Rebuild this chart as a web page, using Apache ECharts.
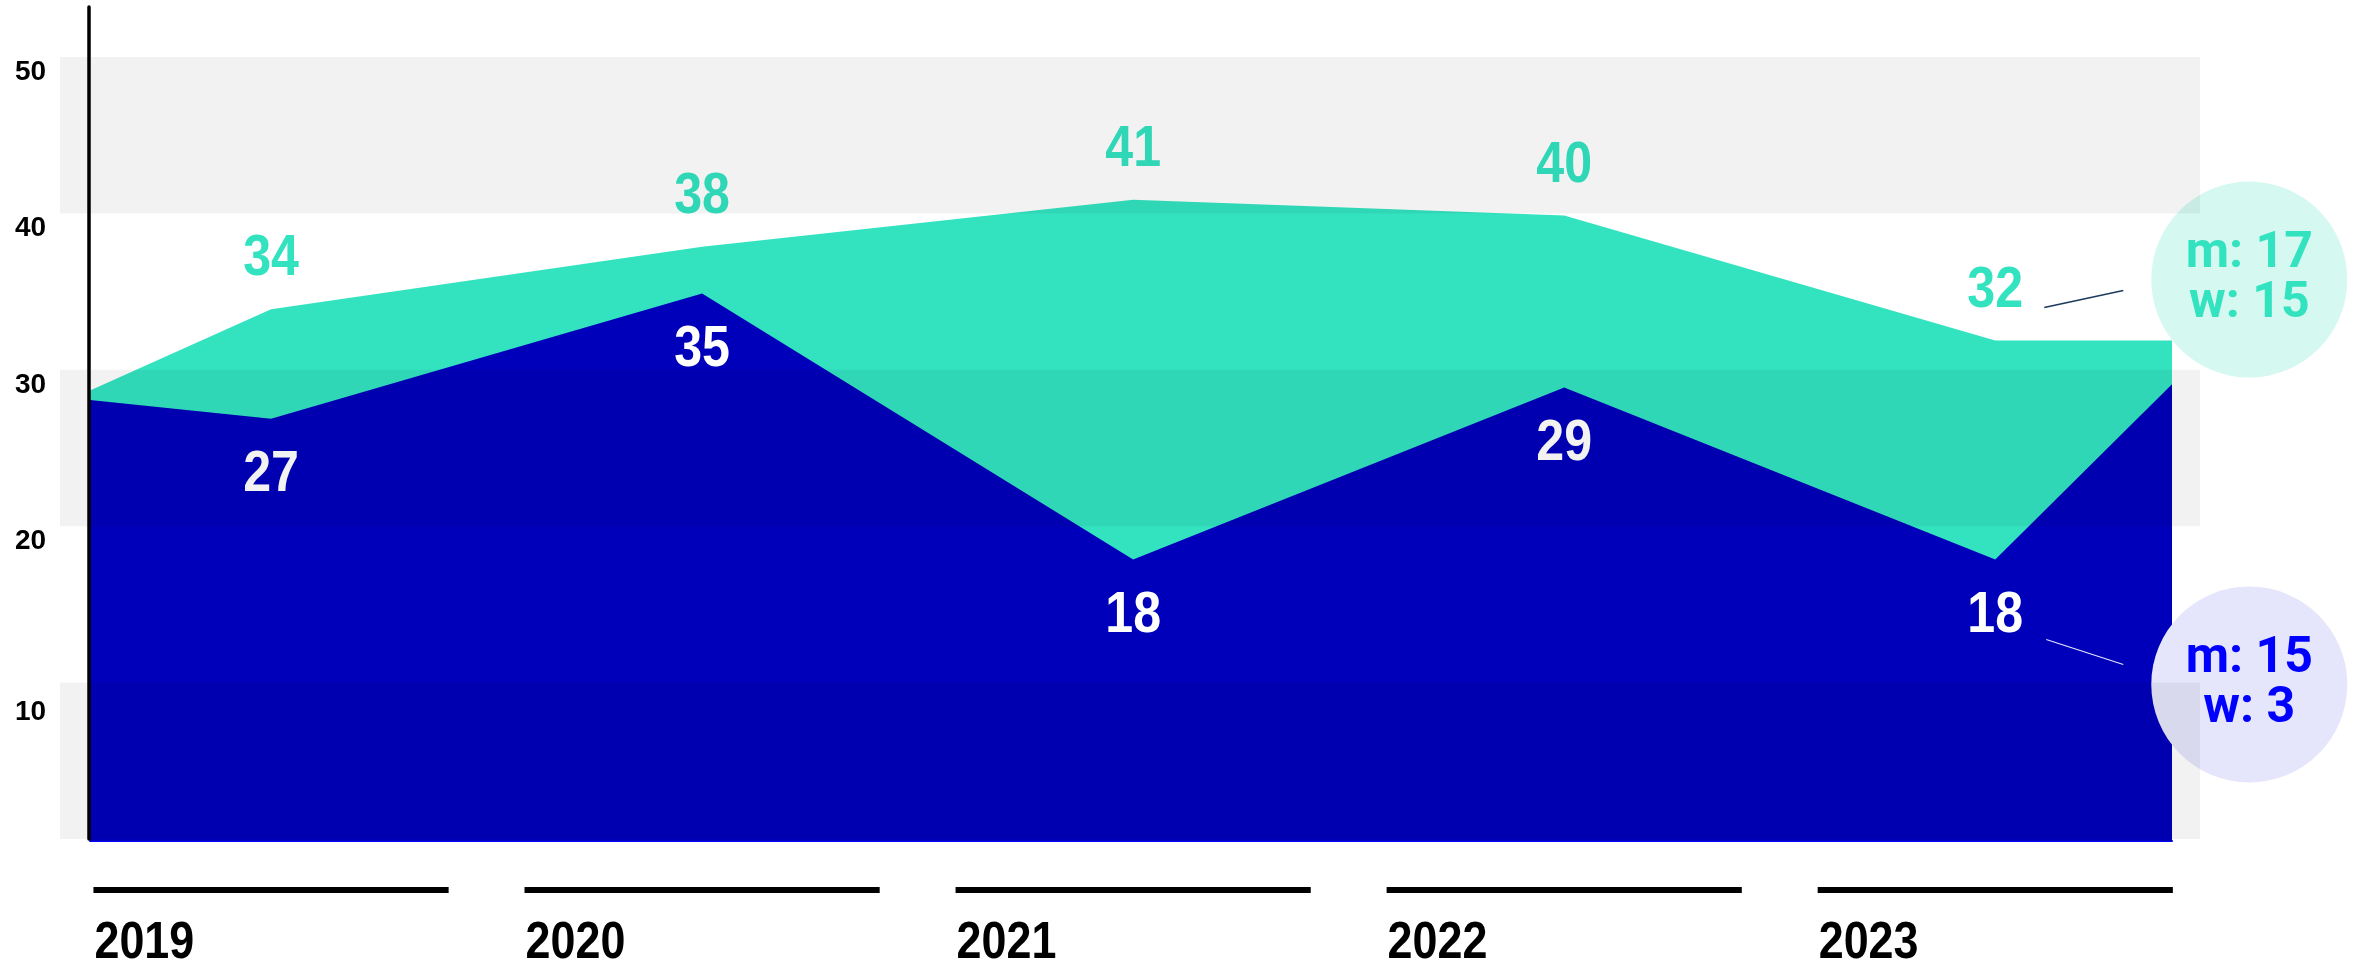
<!DOCTYPE html>
<html>
<head>
<meta charset="utf-8">
<script src="https://cdn.jsdelivr.net/npm/echarts@6/dist/echarts.min.js"></script>
<style>
  html, body { margin: 0; padding: 0; background: #ffffff; }
  #chart { width: 2361px; height: 963px; }
</style>
</head>
<body>
<div id="chart"></div>
<script>
// ---- data ----
const years = ['2019', '2020', '2021', '2022', '2023'];
const tealValues = [34, 38, 41, 40, 32];
const blueValues = [27, 35, 18, 29, 18];
const tealEdgeValues = [28.8, 32];   // value at left edge, right edge
const blueEdgeValues = [28.2, 29.2];
const breakdownKeys = ['m', 'w'];
const tealBreakdown = [17, 15];
const blueBreakdown = [15, 3];
const yTicks = [0, 10, 20, 30, 40, 50];

// ---- layout / style ----
const X_MIN = -0.42, X_MAX = 4.41, SEG_HALF = 0.412;
const SANS = "'Liberation Sans', Arial, sans-serif";
const NARROW = 0.88;             // horizontal squeeze to mimic a condensed face
const TEAL = '#33e3c0', BLUE = '#0000bb';

function buildSeries(values, edges) {
  const d = [[X_MIN, edges[0]]];
  values.forEach((v, i) => d.push([i, v]));
  d.push([X_MAX, edges[1]]);
  return d;
}
function breakdownText(arr) {
  return breakdownKeys.map((k, i) => k + ': ' + arr[i]).join('\n');
}
function labelSeries(values, color, above, dist) {
  return {
    type: 'custom', xAxisIndex: 1, yAxisIndex: 1, z: 4, silent: true, clip: false,
    data: values.map((v, i) => [i, v]),
    renderItem: function (params, api) {
      const v = api.value(1);
      const p = api.coord([api.value(0), v]);
      return {
        type: 'text', x: p[0], y: above ? p[1] - dist : p[1] + dist, scaleX: NARROW,
        style: { text: String(v), x: 0, y: 0, align: 'center',
                 verticalAlign: above ? 'bottom' : 'top',
                 font: 'bold 57px ' + SANS, fill: color }
      };
    }
  };
}

const chart = echarts.init(document.getElementById('chart'), null, { renderer: 'canvas' });
const lastIdx = years.length - 1;

const option = {
  backgroundColor: '#ffffff',
  animation: false,
  grid: [
    { left: 60, right: 161, top: 57, bottom: 124 },       // bands
    { left: 90, right: 189, top: 59, bottom: 122 },       // data
    { left: 89, right: 189, top: 7, bottom: 124 },        // y axis line
    { left: 90, right: 189, top: 887, height: 6 }         // year segments
  ],
  xAxis: [
    { gridIndex: 0, type: 'value', min: 0, max: 1, show: false },
    { gridIndex: 1, type: 'value', min: X_MIN, max: X_MAX,
      axisLine: { show: true, onZero: true, lineStyle: { color: '#0000ff', width: 2 } },
      axisTick: { show: false }, axisLabel: { show: false }, splitLine: { show: false } },
    { gridIndex: 2, type: 'value', min: 0, max: 1, show: false },
    { gridIndex: 3, type: 'value', min: X_MIN, max: X_MAX, show: false }
  ],
  yAxis: [
    { gridIndex: 0, type: 'value', min: 0, max: 50, interval: 10, z: 6,
      axisLine: { show: false }, axisTick: { show: false }, splitLine: { show: false },
      splitArea: { show: true, areaStyle: { color: ['rgba(0,0,0,0.052)', 'rgba(0,0,0,0)'] } },
      axisLabel: {
        show: true, align: 'left', margin: 45, verticalAlign: 'top',
        formatter: v => (yTicks.indexOf(v) <= 0 ? '' : (v === 10 ? '{low|' + v + '}' : '{n|' + v + '}')),
        rich: {
          n: { fontSize: 28, fontWeight: 'bold', fontFamily: SANS, color: '#000', padding: [1, 0, 0, 0] },
          low: { fontSize: 28, fontWeight: 'bold', fontFamily: SANS, color: '#000', padding: [16, 0, 0, 0] }
        }
      } },
    { gridIndex: 1, type: 'value', min: 0, max: 50, show: false },
    { gridIndex: 2, type: 'value', min: 0, max: 1, z: 7,
      axisLine: { show: true, lineStyle: { color: '#000', width: 3.5 } },
      axisTick: { show: false }, axisLabel: { show: false }, splitLine: { show: false } },
    { gridIndex: 3, type: 'value', min: 0, max: 1, show: false }
  ],
  series: [
    {
      name: 'teal', type: 'line', xAxisIndex: 1, yAxisIndex: 1, z: 2,
      data: buildSeries(tealValues, tealEdgeValues),
      symbol: 'none', lineStyle: { width: 0 },
      areaStyle: { color: TEAL, opacity: 1 },
      markPoint: {
        symbol: 'circle', symbolSize: 196, silent: true,
        data: [{ coord: [lastIdx, tealValues[lastIdx]], symbolOffset: [254, -61],
                 itemStyle: { color: '#d5f8f0' },
                 label: { show: true, position: 'inside', formatter: breakdownText(tealBreakdown),
                          color: TEAL, fontSize: 50, lineHeight: 50, fontWeight: 'bold', fontFamily: 'Roboto' } }]
      }
    },
    {
      name: 'blue', type: 'line', xAxisIndex: 1, yAxisIndex: 1, z: 3,
      data: buildSeries(blueValues, blueEdgeValues),
      symbol: 'none', lineStyle: { width: 0 },
      areaStyle: { color: BLUE, opacity: 1 },
      markPoint: {
        symbol: 'circle', symbolSize: 196, silent: true,
        data: [{ coord: [lastIdx, blueValues[lastIdx]], symbolOffset: [254, 125],
                 itemStyle: { color: '#e5e5fb' },
                 label: { show: true, position: 'inside', formatter: breakdownText(blueBreakdown),
                          color: '#0000ff', fontSize: 50, lineHeight: 50, fontWeight: 'bold', fontFamily: 'Roboto' } }]
      }
    },
    labelSeries(tealValues, TEAL, true, 21),
    labelSeries(blueValues, '#ffffff', false, 28),
    {
      name: 'years', type: 'custom', xAxisIndex: 3, yAxisIndex: 3, silent: true, clip: false,
      data: years.map((y, i) => [i]),
      renderItem: function (params, api) {
        const i = api.value(0);
        const a = api.coord([i - SEG_HALF, 1]);
        const b = api.coord([i + SEG_HALF, 0]);
        return {
          type: 'group',
          children: [
            { type: 'rect', shape: { x: a[0], y: a[1], width: b[0] - a[0], height: b[1] - a[1] },
              style: { fill: '#000' } },
            { type: 'text', x: a[0] + 1, y: b[1] + 51, scaleX: NARROW,
              style: { text: years[i], x: 0, y: 0, align: 'left', verticalAlign: 'middle',
                       font: 'bold 51px ' + SANS, fill: '#000' } }
          ]
        };
      }
    }
  ]
};
chart.setOption(option);

// leader lines from the last labels to the breakdown circles
const pt = chart.convertToPixel({ gridIndex: 1 }, [lastIdx, tealValues[lastIdx]]);
const pb = chart.convertToPixel({ gridIndex: 1 }, [lastIdx, blueValues[lastIdx]]);
chart.setOption({
  graphic: [
    { type: 'line', z: 8, silent: true,
      shape: { x1: pt[0] + 49, y1: pt[1] - 33, x2: pt[0] + 128, y2: pt[1] - 50 },
      style: { stroke: '#1b3a5c', lineWidth: 1.5 } },
    { type: 'line', z: 8, silent: true,
      shape: { x1: pb[0] + 51, y1: pb[1] + 80, x2: pb[0] + 128, y2: pb[1] + 105 },
      style: { stroke: '#e6e6fa', lineWidth: 1.2 } }
  ]
});
</script>
</body>
</html>
